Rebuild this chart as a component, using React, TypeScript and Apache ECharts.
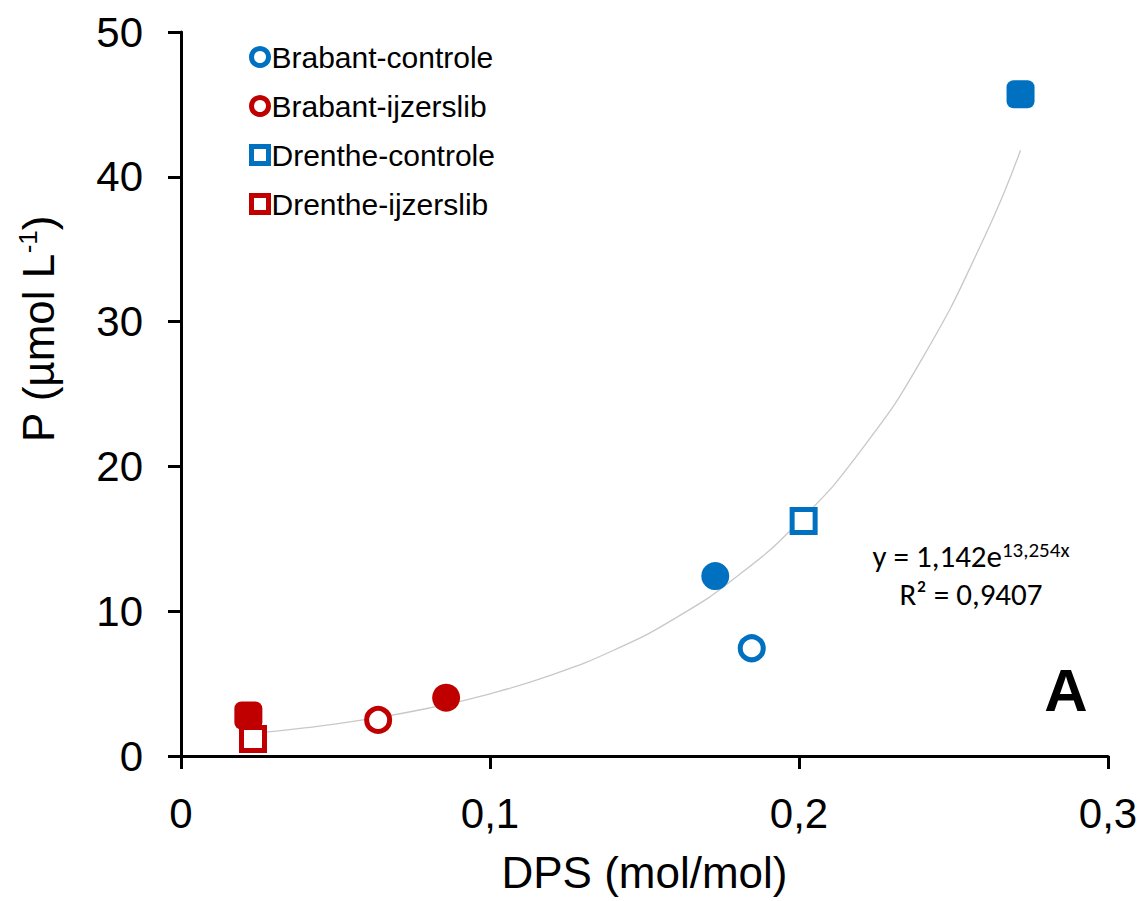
import React, { useEffect, useRef } from "react";
import * as echarts from "echarts";

// ---- data ----
const seriesNames = ["Brabant-controle", "Brabant-ijzerslib", "Drenthe-controle", "Drenthe-ijzerslib"];
const seriesColors = ["#0070C0", "#C00000", "#0070C0", "#C00000"];
const seriesSymbols = ["circle", "circle", "rect", "rect"];
// filled markers
const dpsFilled = [0.1729, 0.0858, 0.2717, 0.0218];
const pFilled = [12.43, 4.03, 45.7, 2.8];
// open markers
const dpsOpen = [0.1847, 0.0638, 0.2015, 0.0233];
const pOpen = [7.44, 2.49, 16.23, 1.17];
// exponential trend line
const trendDps = [0.0233, 0.04, 0.06, 0.08, 0.1, 0.12, 0.14, 0.16, 0.18, 0.2, 0.22, 0.24, 0.26, 0.2717];
const trendP = [1.555, 1.94, 2.53, 3.297, 4.298, 5.603, 7.304, 9.52, 12.41, 16.18, 21.09, 27.49, 35.83, 41.84];
// axes
const xMin = 0, xMax = 0.3, xStep = 0.1;
const yMin = 0, yMax = 50, yStep = 10;
const xTitle = "DPS (mol/mol)";
const eqLine1 = "y = 1,142e";
const eqSup = "13,254x";
const eqLine2 = "R² = 0,9407";
const panelLabel = "A";

const ARIAL = "'Liberation Sans', Arial, sans-serif";
const CALIBRI = "Carlito, Lato, 'Open Sans', sans-serif";

export default function App() {
  const ref = useRef<HTMLDivElement>(null);
  useEffect(() => {
    if (!ref.current) return;
    const chart = echarts.init(ref.current, null, { renderer: "svg" });

    const scatterSeries = seriesNames.map((name, i) => ({
      name,
      type: "scatter",
      symbol: seriesSymbols[i],
      z: 3,
      itemStyle: { color: "#ffffff", borderColor: seriesColors[i], borderWidth: 5, opacity: 1 },
      data: [
        {
          value: [dpsFilled[i], pFilled[i]],
          symbol: seriesSymbols[i] === "rect" ? "roundRect" : "circle",
          symbolSize: 28,
          itemStyle: { color: seriesColors[i], borderWidth: 0 },
        },
        {
          value: [dpsOpen[i], pOpen[i]],
          symbolSize: 23,
        },
      ],
    }));

    const option: any = {
      animation: false,
      backgroundColor: "#ffffff",
      grid: { left: 181, right: 34, top: 32, bottom: 145, containLabel: false },
      legend: {
        data: seriesNames,
        orient: "vertical",
        left: 244,
        top: 37,
        itemWidth: 17,
        itemHeight: 17,
        itemGap: 19,
        selectedMode: false,
        itemStyle: { borderWidth: 5 },
        textStyle: { fontFamily: ARIAL, fontSize: 30, color: "#000", padding: [0, 0, 0, -2] },
      },
      xAxis: {
        type: "value",
        min: xMin,
        max: xMax,
        interval: xStep,
        name: xTitle,
        nameLocation: "middle",
        nameGap: 94,
        nameTextStyle: { fontFamily: ARIAL, fontSize: 44, color: "#000" },
        splitLine: { show: false },
        axisLine: { show: true, onZero: false, lineStyle: { color: "#000", width: 3 } },
        axisTick: { show: true, inside: false, length: 13, lineStyle: { color: "#000", width: 3 } },
        axisLabel: {
          margin: 36,
          fontFamily: ARIAL,
          fontSize: 42,
          color: "#000",
          formatter: (v: number) => (v === 0 ? "0" : v.toFixed(1).replace(".", ",")),
        },
      },
      yAxis: {
        type: "value",
        min: yMin,
        max: yMax,
        interval: yStep,
        splitLine: { show: false },
        axisLine: { show: true, onZero: false, lineStyle: { color: "#000", width: 3 } },
        axisTick: { show: true, inside: false, length: 13, lineStyle: { color: "#000", width: 3 } },
        axisLabel: { margin: 38, fontFamily: ARIAL, fontSize: 42, color: "#000" },
      },
      graphic: [
        {
          type: "text",
          x: 38,
          y: 329,
          rotation: Math.PI / 2,
          style: {
            text: "{b|P (µmol L}{s|-1}{b|)}",
            align: "center",
            verticalAlign: "middle",
            rich: {
              b: { fontFamily: ARIAL, fontSize: 44, lineHeight: 46, fill: "#000" },
              s: { fontFamily: ARIAL, fontSize: 26, lineHeight: 26, verticalAlign: "top", fill: "#000" },
            },
          },
        },
        {
          type: "text",
          x: 971,
          y: 556,
          style: {
            text: `{b|${eqLine1}}{s|${eqSup}}`,
            align: "center",
            verticalAlign: "middle",
            rich: {
              b: { fontFamily: CALIBRI, fontSize: 31, lineHeight: 34, fill: "#000" },
              s: { fontFamily: CALIBRI, fontSize: 21, lineHeight: 22, verticalAlign: "top", fill: "#000" },
            },
          },
        },
        {
          type: "text",
          x: 971,
          y: 594,
          style: {
            text: eqLine2,
            align: "center",
            verticalAlign: "middle",
            fontFamily: CALIBRI,
            fontSize: 31,
            fill: "#000",
          },
        },
        {
          type: "text",
          x: 1066,
          y: 690,
          style: {
            text: panelLabel,
            align: "center",
            verticalAlign: "middle",
            fontFamily: ARIAL,
            fontWeight: "bold",
            fontSize: 60,
            fill: "#000",
          },
        },
      ],
      series: [
        {
          name: "trend",
          type: "line",
          z: 1,
          smooth: true,
          symbol: "none",
          silent: true,
          lineStyle: { color: "#c8c8c8", width: 1.3 },
          data: trendDps.map((x, i) => [x, trendP[i]]),
        },
        ...scatterSeries,
      ],
    };
    chart.setOption(option);
    return () => chart.dispose();
  }, []);
  return (
    <div
      ref={ref}
      style={{ position: "fixed", left: 0, top: 0, width: 1142, height: 901, background: "#fff" }}
    />
  );
}
